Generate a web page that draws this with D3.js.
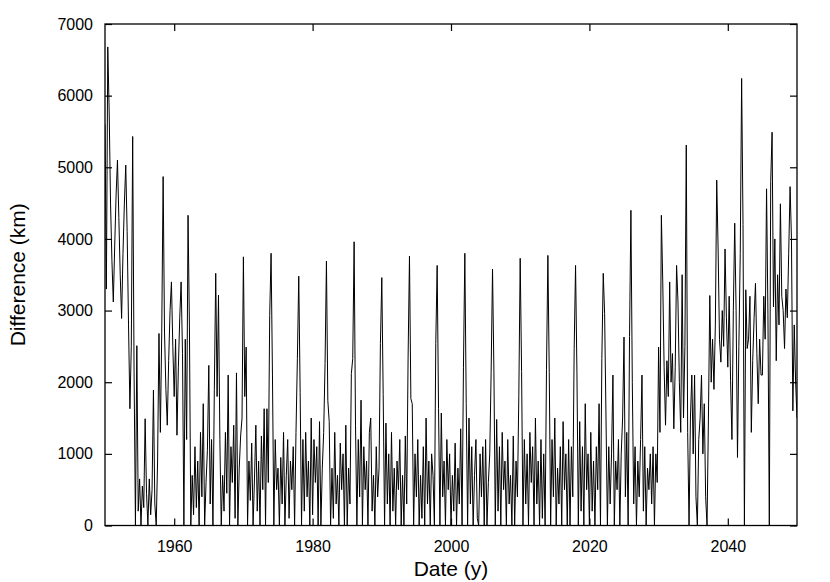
<!DOCTYPE html>
<html>
<head>
<meta charset="utf-8">
<script src="https://cdn.jsdelivr.net/npm/d3@7"></script>
<style>
  html, body { margin: 0; padding: 0; background: #fff; }
  svg { display: block; font-family: "Liberation Sans", Arial, Helvetica, sans-serif; }
</style>
</head>
<body>
<svg id="chart" width="830" height="582"></svg>
<script>
// ---- data ----
const xDomain = [1950, 2050];
const yDomain = [0, 7000];
const xTickValues = [1960, 1980, 2000, 2020, 2040];
const yTickValues = [0, 1000, 2000, 3000, 4000, 5000, 6000, 7000];
const xTitle = "Date (y)";
const yTitle = "Difference (km)";
const sampleStartYear = 1950;
const samplesPerYear = 5;
// difference (km), 5 samples per year
const differenceKm = [
  5600, 3300, 6680, 5800, 4500,   // 1950
  3700, 3120, 3900, 4600, 5100,   // 1951
  4300, 3500, 2890, 3800, 4500,   // 1952
  5030, 4100, 2800, 1630, 2500,   // 1953
  5430, 2140, 0, 2510, 200,       // 1954
  650, 0, 550, 250, 1490,         // 1955
  450, 0, 650, 150, 500,          // 1956
  1890, 300, 0, 900, 2680,        // 1957
  1300, 2700, 4870, 2700, 1900,   // 1958
  1400, 2300, 3000, 3400, 2500,   // 1959
  1800, 2600, 1260, 2200, 2900,   // 1960
  3400, 2400, 0, 2600, 1200,      // 1961
  4330, 2770, 0, 700, 150,        // 1962
  1100, 250, 900, 0, 1300,        // 1963
  400, 1700, 0, 600, 1050,        // 1964
  2235, 300, 1200, 0, 1900,       // 1965
  3520, 1800, 3215, 1200, 0,      // 1966
  700, 200, 1300, 450, 2100,      // 1967
  0, 1100, 600, 1400, 100,        // 1968
  2130, 0, 800, 1250, 1500,       // 1969
  3750, 1800, 2490, 0, 900,       // 1970
  350, 1150, 0, 650, 1400,        // 1971
  200, 900, 0, 1250, 500,         // 1972
  1630, 0, 1630, 600, 2930,       // 1973
  3800, 2100, 0, 1200, 500,       // 1974
  800, 0, 950, 300, 1300,         // 1975
  0, 700, 1200, 100, 900,         // 1976
  500, 1100, 0, 1300, 2330,       // 1977
  3480, 1860, 0, 1200, 200,       // 1978
  1300, 400, 900, 0, 1500,        // 1979
  150, 1200, 600, 1100, 0,        // 1980
  1450, 0, 800, 1300, 2260,       // 1981
  3690, 1745, 1450, 0, 800,       // 1982
  100, 1300, 300, 700, 0,         // 1983
  1150, 500, 1000, 0, 1400,       // 1984
  0, 800, 300, 2120, 2330,        // 1985
  3960, 1400, 0, 1200, 400,       // 1986
  1750, 0, 1100, 500, 900,        // 1987
  0, 1300, 1500, 200, 700,        // 1988
  0, 1100, 400, 800, 2540,        // 1989
  3460, 1830, 0, 1430, 300,       // 1990
  1000, 0, 1300, 200, 800,        // 1991
  0, 900, 500, 1200, 0,           // 1992
  700, 0, 1250, 300, 2350,        // 1993
  3760, 1770, 1700, 0, 1000,      // 1994
  400, 1200, 0, 700, 100,         // 1995
  1100, 0, 1500, 300, 900,        // 1996
  0, 1000, 700, 0, 2540,          // 1997
  3630, 1630, 0, 1570, 400,       // 1998
  900, 0, 1200, 500, 1000,        // 1999
  0, 700, 200, 1150, 0,           // 2000
  800, 300, 1350, 0, 2210,        // 2001
  3800, 1700, 0, 1500, 300,       // 2002
  1100, 0, 700, 1200, 100,        // 2003
  0, 1000, 400, 1100, 0,          // 2004
  1200, 0, 600, 1000, 2140,       // 2005
  3580, 2170, 0, 1480, 200,       // 2006
  1100, 0, 1300, 500, 900,        // 2007
  0, 1200, 300, 700, 0,           // 2008
  1250, 0, 900, 400, 1810,        // 2009
  3730, 2150, 0, 1200, 300,       // 2010
  1000, 0, 1300, 600, 1100,       // 2011
  0, 1500, 300, 900, 0,           // 2012
  1200, 100, 1000, 0, 2180,       // 2013
  3770, 2130, 0, 1200, 400,       // 2014
  1500, 0, 800, 300, 1100,        // 2015
  0, 1450, 500, 1000, 0,          // 2016
  1200, 0, 1100, 400, 2470,       // 2017
  3630, 2130, 0, 1450, 200,       // 2018
  1100, 0, 1700, 500, 1000,       // 2019
  0, 1300, 200, 900, 0,           // 2020
  1100, 500, 1700, 0, 2330,       // 2021
  3520, 2960, 1500, 0, 1100,      // 2022
  300, 1000, 2100, 0, 900,        // 2023
  500, 1200, 0, 1000, 1500,       // 2024
  2630, 400, 1300, 0, 2640,       // 2025
  4400, 2000, 300, 1100, 0,       // 2026
  900, 400, 1200, 2100, 200,      // 2027
  1100, 0, 800, 500, 1000,        // 2028
  300, 1100, 0, 1000, 600,        // 2029
  2490, 1300, 4330, 3400, 2200,   // 2030
  1400, 2300, 1800, 3400, 2000,   // 2031
  2400, 1350, 2200, 3630, 3120,   // 2032
  2000, 1300, 3500, 1500, 2500,   // 2033
  5310, 1300, 0, 1500, 2100,      // 2034
  1000, 2100, 400, 0, 1200,       // 2035
  1500, 2100, 1000, 1700, 400,    // 2036
  0, 1500, 3210, 2000, 2600,      // 2037
  1900, 2800, 4820, 3860, 2600,   // 2038
  2280, 3000, 2500, 3860, 2900,   // 2039
  2210, 3200, 2020, 1200, 3000,   // 2040
  4220, 3000, 950, 2500, 3800,    // 2041
  6240, 4200, 0, 3290, 2470,      // 2042
  2600, 3200, 1300, 2300, 2900,   // 2043
  3380, 2400, 1700, 2600, 2100,   // 2044
  2100, 3200, 2600, 4700, 2950,   // 2045
  0, 4800, 5490, 3050, 4000,      // 2046
  2300, 3500, 2800, 4490, 3200,   // 2047
  3000, 2470, 3300, 2900, 3800,   // 2048
  4730, 4000, 1600, 2800, 2000,   // 2049
  1500                            // 2050
];

// ---- layout ----
const margin = { left: 105, right: 33, top: 24, bottom: 56.5 };
const W = 830, H = 582;
const svg = d3.select("#chart");
svg.append("rect").attr("width", W).attr("height", H).attr("fill", "#fff");

const x = d3.scaleLinear().domain(xDomain).range([margin.left, W - margin.right]);
const y = d3.scaleLinear().domain(yDomain).range([H - margin.bottom, margin.top]);

const series = differenceKm.map((v, i) => ({ t: sampleStartYear + i / samplesPerYear, v }));

// clip for the data line
svg.append("clipPath").attr("id", "clip")
  .append("rect")
  .attr("x", x(xDomain[0])).attr("y", y(yDomain[1]))
  .attr("width", x(xDomain[1]) - x(xDomain[0]))
  .attr("height", y(yDomain[0]) - y(yDomain[1]));

const line = d3.line().x(d => x(d.t)).y(d => y(d.v));
svg.append("path")
  .datum(series)
  .attr("clip-path", "url(#clip)")
  .attr("fill", "none")
  .attr("stroke", "#000")
  .attr("stroke-width", 1)
  .attr("stroke-linejoin", "miter")
  .attr("d", line);

const tickLen = 7;
const fontTick = 16;

// bottom axis (inward ticks)
const gB = svg.append("g").attr("transform", `translate(0,${y(0)})`)
  .call(d3.axisBottom(x).tickValues(xTickValues).tickFormat(d3.format("d")).tickSizeInner(-tickLen).tickSizeOuter(0).tickPadding(tickLen + 8));
// top axis
const gT = svg.append("g").attr("transform", `translate(0,${y(yDomain[1])})`)
  .call(d3.axisTop(x).tickValues(xTickValues).tickFormat("").tickSizeInner(-tickLen).tickSizeOuter(0));
// left axis
const gL = svg.append("g").attr("transform", `translate(${x(xDomain[0])},0)`)
  .call(d3.axisLeft(y).tickValues(yTickValues).tickFormat(d3.format("d")).tickSizeInner(-tickLen).tickSizeOuter(0).tickPadding(12));
// right axis
const gR = svg.append("g").attr("transform", `translate(${x(xDomain[1])},0)`)
  .call(d3.axisRight(y).tickValues(yTickValues).tickFormat("").tickSizeInner(-tickLen).tickSizeOuter(0));

[gB, gT, gL, gR].forEach(g => {
  g.select(".domain").remove();
  g.selectAll(".tick line").attr("stroke", "#000").attr("stroke-width", 1.2);
  g.selectAll("text").attr("fill", "#000").attr("font-size", fontTick)
    .attr("font-family", '"Liberation Sans", Arial, sans-serif');
});

// frame
svg.append("rect")
  .attr("x", x(xDomain[0])).attr("y", y(yDomain[1]))
  .attr("width", x(xDomain[1]) - x(xDomain[0]))
  .attr("height", y(yDomain[0]) - y(yDomain[1]))
  .attr("fill", "none").attr("stroke", "#000").attr("stroke-width", 1.3);

// axis titles
svg.append("text")
  .attr("x", (x(xDomain[0]) + x(xDomain[1])) / 2).attr("y", 576)
  .attr("text-anchor", "middle").attr("font-size", 21).attr("fill", "#000")
  .text(xTitle);
svg.append("text")
  .attr("transform", `translate(25,${(y(0) + y(yDomain[1])) / 2}) rotate(-90)`)
  .attr("text-anchor", "middle").attr("font-size", 21).attr("fill", "#000")
  .text(yTitle);
</script>
</body>
</html>
